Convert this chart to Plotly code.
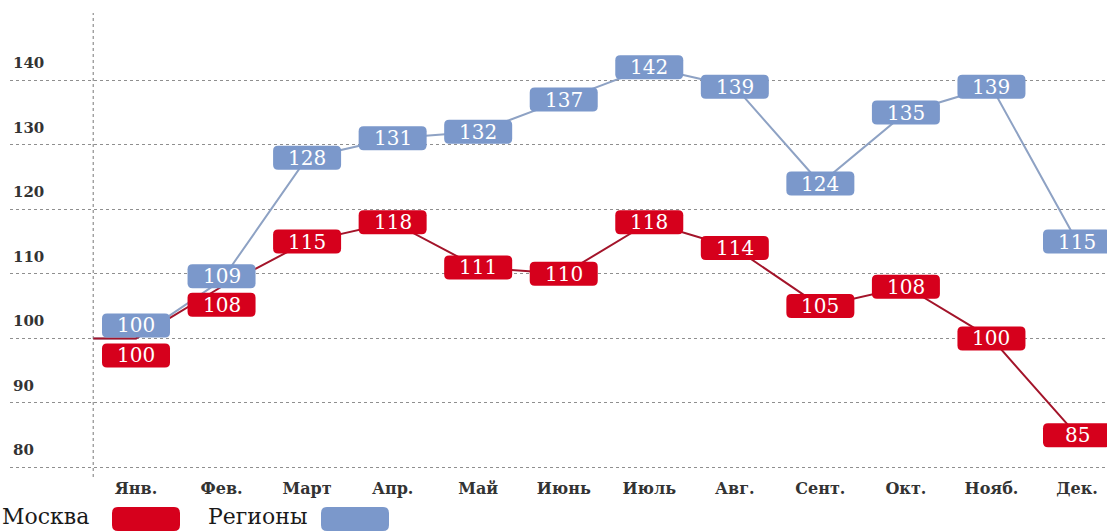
import plotly.graph_objects as go

# Monthly index values (start of year = 100)
months = ["Янв.", "Фев.", "Март", "Апр.", "Май", "Июнь", "Июль", "Авг.",
          "Сент.", "Окт.", "Нояб.", "Дек."]
moscow = [100, 108, 115, 118, 111, 110, 118, 114, 105, 108, 100, 85]
regions = [100, 109, 128, 131, 132, 137, 142, 139, 124, 135, 139, 115]
base_value = 100
y_ticks = [80, 90, 100, 110, 120, 130, 140]

RED = "#d6001c"
RED_LINE = "#a3142a"
BLUE = "#7b98cb"
BLUE_LINE = "#8ea2c4"
GRID = "#8f8f8f"
SERIF = "DejaVu Serif"

W, H = 1107, 531
M_L, M_R, M_T, M_B = 10, 0, 13, 54

# Pixel nudges for labels that would otherwise overlap (positive = up)
nudge_moscow = {0: -17, 1: -18}
nudge_regions = {0: 13, 1: 4}

x_pts = list(range(len(months)))
x_line = [-0.5] + x_pts


def rounded_rect(w, h, r, dy=0.0):
    x0, x1 = -w / 2, w / 2
    y0, y1 = dy - h / 2, dy + h / 2
    return (f"M{x0 + r},{y0} L{x1 - r},{y0} Q{x1},{y0} {x1},{y0 + r} "
            f"L{x1},{y1 - r} Q{x1},{y1} {x1 - r},{y1} L{x0 + r},{y1} "
            f"Q{x0},{y1} {x0},{y1 - r} L{x0},{y0 + r} Q{x0},{y0} {x0 + r},{y0} Z")


fig = go.Figure()

fig.add_trace(go.Scatter(x=x_line, y=[base_value] + regions, mode="lines",
                         line=dict(color=BLUE_LINE, width=2), hoverinfo="skip"))
fig.add_trace(go.Scatter(x=x_line, y=[base_value] + moscow, mode="lines",
                         line=dict(color=RED_LINE, width=2), hoverinfo="skip"))

shapes = []
annotations = []


def add_labels(values, color, nudges):
    for i, v in enumerate(values):
        dy = nudges.get(i, 0)
        shapes.append(dict(type="path", xref="x", yref="y",
                           xsizemode="pixel", ysizemode="pixel",
                           xanchor=i, yanchor=v,
                           path=rounded_rect(68, 24, 5, dy),
                           fillcolor=color, line=dict(width=0), layer="above"))
        annotations.append(dict(x=i, y=v, xref="x", yref="y", text=str(v),
                                showarrow=False, yshift=dy,
                                font=dict(family=SERIF, size=20, color="white")))


add_labels(regions, BLUE, nudge_regions)
add_labels(moscow, RED, nudge_moscow)

# vertical dotted axis line at the series start
shapes.append(dict(type="line", xref="x", yref="paper", x0=-0.5, x1=-0.5,
                   y0=0, y1=1, line=dict(color=GRID, width=1.2, dash="dot"),
                   layer="below"))

plot_w = W - M_L - M_R
plot_h = H - M_T - M_B


def px_x(px):
    return (px - M_L) / plot_w


def px_y(py):
    return (H - M_B - py) / plot_h


# legend
legend_items = [("Москва", RED, 0, 146), ("Регионы", BLUE, 206, 355)]
for name, color, tx, rx in legend_items:
    annotations.append(dict(xref="paper", yref="paper", x=px_x(tx), y=px_y(516),
                            xanchor="left", yanchor="middle", text=name,
                            showarrow=False,
                            font=dict(family=SERIF, size=22, color="#1a1a1a")))
    shapes.append(dict(type="path", xref="paper", yref="paper",
                       xsizemode="pixel", ysizemode="pixel",
                       xanchor=px_x(rx), yanchor=px_y(519),
                       path=rounded_rect(68, 24, 6), fillcolor=color,
                       line=dict(width=0)))

px_per_month = (1077 - 136) / 11
x_left = (M_L - 136) / px_per_month
x_right = (W - M_R - 136) / px_per_month

fig.update_layout(
    width=W, height=H,
    margin=dict(l=M_L, r=M_R, t=M_T, b=M_B),
    paper_bgcolor="white", plot_bgcolor="white",
    showlegend=False,
    shapes=shapes, annotations=annotations,
    xaxis=dict(range=[x_left, x_right], tickvals=x_pts, ticktext=months,
               showgrid=False, zeroline=False, showline=False, ticks="",
               tickfont=dict(family=SERIF, size=16, color="#333333",
                             weight="bold")),
    yaxis=dict(range=[78.52, 150.42], tickvals=y_ticks,
               ticklabelposition="inside top", ticklabelshift=-7,
               showgrid=True,
               gridcolor=GRID, griddash="dot", gridwidth=1.2,
               zeroline=False, showline=False, ticks="",
               tickfont=dict(family=SERIF, size=15, color="#333333",
                             weight="bold")),
)

fig.write_html("out.html")
